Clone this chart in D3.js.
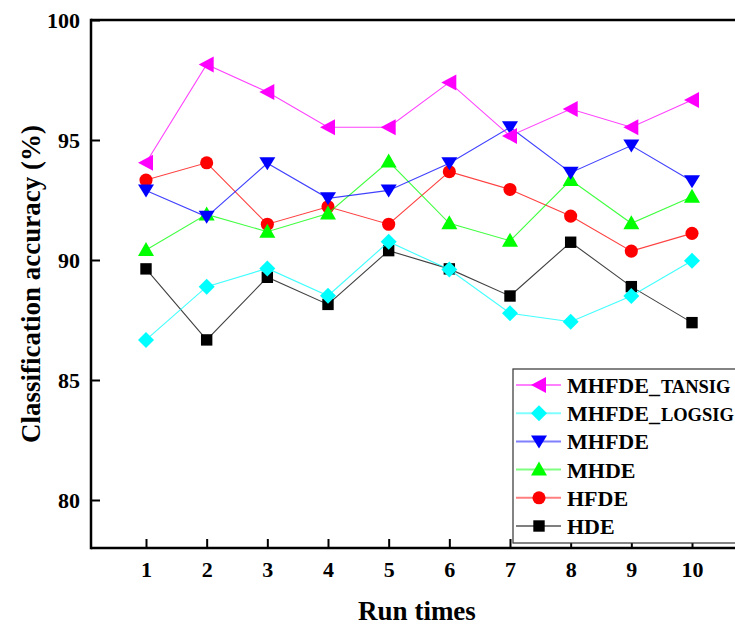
<!DOCTYPE html>
<html>
<head>
<meta charset="utf-8">
<script src="https://cdn.jsdelivr.net/npm/d3@7"></script>
<style>
  body { margin: 0; background: #fff; }
  text { font-family: "Liberation Serif", "Times New Roman", serif; font-weight: bold; }
</style>
</head>
<body>
<svg id="chart" width="735" height="626"></svg>
<script>
// run index 1..10
var runs = [1, 2, 3, 4, 5, 6, 7, 8, 9, 10];
var yTicks = [80, 85, 90, 95, 100];

var tansig = [94.05, 98.15, 97.0, 95.53, 95.53, 97.4, 95.17, 96.29, 95.53, 96.67];
var logsig = [86.67, 88.89, 89.65, 88.51, 90.76, 89.6, 87.78, 87.43, 88.5, 89.97];
var mhfde  = [92.9, 91.8, 94.03, 92.57, 92.9, 94.03, 95.53, 93.64, 94.77, 93.28];
var mhde   = [90.42, 91.9, 91.18, 91.94, 94.1, 91.53, 90.8, 93.33, 91.53, 92.64];
var hfde   = [93.33, 94.05, 91.49, 92.22, 91.49, 93.68, 92.94, 91.83, 90.37, 91.11];
var hde    = [89.63, 86.67, 89.28, 88.15, 90.39, 89.63, 88.5, 90.74, 88.89, 87.39];

var series = [
  {name: "MHFDE", sub: "TANSIG", vals: tansig, color: "#ff00ff", sym: "left"},
  {name: "MHFDE", sub: "LOGSIG", vals: logsig, color: "#00ffff", sym: "diamond"},
  {name: "MHFDE", sub: "", vals: mhfde, color: "#0000ff", sym: "down"},
  {name: "MHDE", sub: "", vals: mhde, color: "#00ff00", sym: "up"},
  {name: "HFDE", sub: "", vals: hfde, color: "#ff0000", sym: "circle"},
  {name: "HDE", sub: "", vals: hde, color: "#000000", sym: "square"}
];

function drawChart() {
  var svg = d3.select("#chart");
  var left = 91, plotTop = 20, bottom = 548, right = 743;

  var x = d3.scaleLinear().domain([1, 10]).range([146, 692]);
  var y = d3.scaleLinear().domain([78, 100]).range([bottom, plotTop]);

  // marker path builder
  function marker(sym) {
    if (sym == "circle") return d3.symbol().type(d3.symbolCircle).size(135)();
    if (sym == "square") return d3.symbol().type(d3.symbolSquare).size(130)();
    if (sym == "diamond") return "M0,-8L8,0L0,8L-8,0Z";
    if (sym == "up") return "M0,-8L8,6L-8,6Z";
    if (sym == "down") return "M0,7L8,-6L-8,-6Z";
    if (sym == "left") return "M-8,0L7,-8L7,8Z";
  }

  function styleTicks(g) {
    g.select(".domain").remove();
    g.selectAll(".tick line").attr("stroke", "#000").attr("stroke-width", 2);
    g.selectAll(".tick text").attr("font-size", 22).attr("fill", "#000")
      .style("font-family", "'Liberation Serif', serif").style("font-weight", "bold");
  }

  // axes
  svg.append("g")
    .attr("transform", "translate(" + left + ",0)")
    .call(d3.axisLeft(y).tickValues(yTicks).tickSizeInner(-9).tickSizeOuter(0).tickPadding(11))
    .call(styleTicks);

  svg.append("g")
    .attr("transform", "translate(0," + bottom + ")")
    .call(d3.axisBottom(x).tickValues(runs).tickFormat(d3.format("d")).tickSizeInner(-9).tickSizeOuter(0).tickPadding(13))
    .call(styleTicks);

  svg.append("line").attr("x1", left).attr("x2", right).attr("y1", plotTop).attr("y2", plotTop)
    .attr("stroke", "#000").attr("stroke-width", 2.5);
  svg.append("line").attr("x1", left).attr("x2", right).attr("y1", bottom).attr("y2", bottom)
    .attr("stroke", "#000").attr("stroke-width", 2.5);
  svg.append("line").attr("x1", left).attr("x2", left).attr("y1", plotTop - 1.25).attr("y2", bottom + 1.25)
    .attr("stroke", "#000").attr("stroke-width", 2.5);

  // series, bottom one first
  var line = d3.line().x(function(d, i) { return x(runs[i]); }).y(function(d) { return y(d); });

  series.slice().reverse().forEach(function(s) {
    svg.append("path").datum(s.vals)
      .attr("d", line)
      .attr("fill", "none")
      .attr("stroke", s.color)
      .attr("stroke-opacity", 0.75)
      .attr("stroke-width", 1.1);
    svg.append("g").selectAll("path")
      .data(s.vals).enter().append("path")
      .attr("d", marker(s.sym))
      .attr("transform", function(d, i) { return "translate(" + x(runs[i]) + "," + y(d) + ")"; })
      .attr("fill", s.color);
  });

  // legend
  var lg = svg.append("g");
  lg.append("rect").attr("x", 513).attr("y", 369).attr("width", 240).attr("height", 174)
    .attr("fill", "#fff").attr("stroke", "#333").attr("stroke-width", 1.2);

  var row = lg.selectAll(".row").data(series).enter().append("g")
    .attr("transform", function(d, i) { return "translate(0," + (385 + i * 28.2) + ")"; });
  row.append("line").attr("x1", 516).attr("x2", 561)
    .attr("stroke", function(d) { return d.color; })
    .attr("stroke-opacity", 0.5).attr("stroke-width", 2);
  row.append("path")
    .attr("d", function(d) { return marker(d.sym); })
    .attr("transform", "translate(539,0)")
    .attr("fill", function(d) { return d.color; });
  var t = row.append("text").attr("x", 567).attr("y", 8).attr("font-size", 22).attr("fill", "#000");
  t.append("tspan").text(function(d) { return d.sub ? d.name + "_" : d.name; });
  t.append("tspan").attr("font-size", 18.5).attr("dx", 1).text(function(d) { return d.sub; });

  // axis titles
  svg.append("text")
    .attr("transform", "translate(40,284) rotate(-90)")
    .attr("text-anchor", "middle")
    .attr("font-size", 27)
    .text("Classification accuracy (%)");

  svg.append("text")
    .attr("x", 417).attr("y", 620)
    .attr("text-anchor", "middle")
    .attr("font-size", 27)
    .text("Run times");
}

drawChart();
</script>
</body>
</html>
